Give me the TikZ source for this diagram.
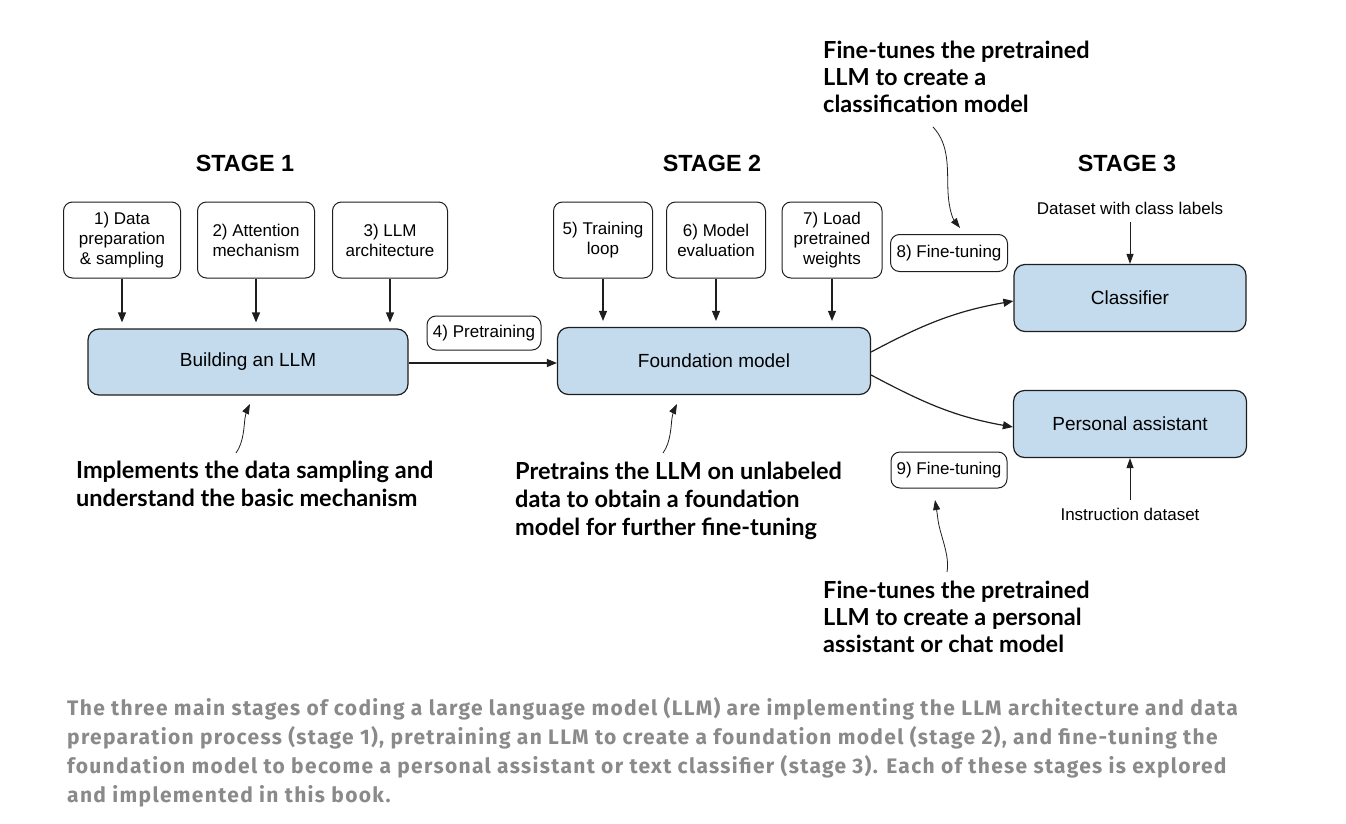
\documentclass[tikz,border=0pt]{standalone}
\usepackage{fontspec}
\setmainfont{Liberation Sans}
\newfontfamily\annfont{Lato}
\newfontfamily\capfont[LetterSpace=6.3]{Fira Sans}
\usetikzlibrary{arrows.meta}
\definecolor{boxblue}{RGB}{196,219,238}
\definecolor{capgray}{RGB}{138,138,138}
\definecolor{edge}{RGB}{30,30,30}
\begin{document}
\begin{tikzpicture}[x=1pt,y=-1pt,
 smallbox/.style={draw=edge, line width=1pt, rounded corners=9pt, align=center, font=\fontsize{17}{20}\selectfont, inner sep=0pt},
 bigbox/.style={draw=edge, fill=boxblue, line width=1.2pt, rounded corners=11pt, font=\fontsize{19}{22}\selectfont, inner sep=0pt},
 arr/.style={line width=1.2pt, draw=edge, -{Triangle[length=10pt,width=8pt]}},
 thinarr/.style={line width=0.8pt, draw=edge, -{Triangle[length=10pt,width=7pt]}},
 stage/.style={font=\bfseries\fontsize{23.4}{27}\selectfont, inner sep=0pt},
 ann/.style={font=\annfont\bfseries\fontsize{23.5}{27}\selectfont, anchor=base west, inner sep=0pt},
 captxt/.style={font=\capfont\bfseries\fontsize{21}{29}\selectfont, text=capgray, anchor=base west, inner sep=0pt},
 lbl/.style={font=\fontsize{17}{20}\selectfont, inner sep=0pt}
]
\useasboundingbox (0,0) rectangle (1346,824);

% stage headings
\node[stage] (s1) at (245,163) {STAGE 1};
\node[stage] (s2) at (712,163) {STAGE 2};
\node[stage] (s3) at (1127,163) {STAGE 3};

% stage 1
\node[smallbox, minimum width=117pt, minimum height=76pt] (b1) at (122,240) {1) Data\\preparation\\\& sampling};
\node[smallbox, minimum width=117pt, minimum height=76pt] (b2) at (256,240) {2) Attention\\mechanism};
\node[smallbox, minimum width=115pt, minimum height=76pt] (b3) at (390,240) {3) LLM\\architecture};
\node[bigbox, minimum width=320pt, minimum height=66pt] (build) at (248,362) {Building an LLM};

\draw[arr, shorten >=6pt] (b1.south) -- (b1.south |- build.north);
\draw[arr, shorten >=6pt] (b2.south) -- (b2.south |- build.north);
\draw[arr, shorten >=6pt] (b3.south) -- (b3.south |- build.north);

% stage 2
\node[smallbox, minimum width=99pt, minimum height=76pt] (b5) at (603,240) {5) Training\\loop};
\node[smallbox, minimum width=99pt, minimum height=76pt] (b6) at (716,240) {6) Model\\evaluation};
\node[smallbox, minimum width=100pt, minimum height=76pt] (b7) at (832,240) {7) Load\\pretrained\\weights};
\node[bigbox, minimum width=313pt, minimum height=67pt] (found) at (714,361) {Foundation model};

\draw[arr, shorten >=6pt] (b5.south) -- (b5.south |- found.north);
\draw[arr, shorten >=6pt] (b6.south) -- (b6.south |- found.north);
\draw[arr, shorten >=6pt] (b7.south) -- (b7.south |- found.north);

\node[smallbox, minimum width=114pt, minimum height=34pt] (b4) at (484,333) {4) Pretraining};
\draw[arr] (build.east |- 0,363) -- (found.west |- 0,363);

% stage 3
\node[bigbox, minimum width=232pt, minimum height=67pt] (cls) at (1130,298) {Classifier};
\node[bigbox, minimum width=233pt, minimum height=67pt] (pa) at (1130,424) {Personal assistant};
\node[smallbox, minimum width=117pt, minimum height=37pt] (b8) at (949,253) {8) Fine-tuning};
\node[smallbox, minimum width=116pt, minimum height=36pt] (b9) at (949,470) {9) Fine-tuning};

\node[lbl] (dcl) at (1130,208) {Dataset with class labels};
\node[lbl] (ids) at (1130,514) {Instruction dataset};
\draw[thinarr, line width=1pt, shorten <=8pt] (dcl.south) -- (cls.north);
\draw[thinarr, line width=1pt, shorten <=8pt] (ids.north) -- (pa.south);

\draw[arr] (found.east |- 0,352) to[out=28,in=190] (cls.west |- 0,301);
\draw[arr] (found.east |- 0,375) to[out=-28,in=170] (pa.west |- 0,427);

% annotations
\node[ann] (a1l1) at (823,59) {Fine-tunes the pretrained};
\node[ann] (a1l2) at (823,86) {LLM to create a};
\node[ann] (a1l3) at (823,113) {classification model};
\coordinate (a1s) at (933,127);
\coordinate (a1e) at (960,228);
\draw[thinarr] (a1s) .. controls (950,145) and (947,170) .. (948,192) .. controls (949,210) and (953,219) .. (a1e);

\node[ann] (a2l1) at (823,598) {Fine-tunes the pretrained};
\node[ann] (a2l2) at (823,625) {LLM to create a personal};
\node[ann] (a2l3) at (823,652) {assistant or chat model};
\coordinate (a2s) at (947,572);
\coordinate (a2e) at (935,500);
\draw[thinarr] (a2s) .. controls (950,555) and (940,535) .. (938,520) .. controls (937,512) and (936,506) .. (a2e);

\node[ann] (a3l1) at (76,478) {Implements the data sampling and};
\node[ann] (a3l2) at (76,506) {understand the basic mechanism};
\coordinate (a3s) at (236,453);
\coordinate (a3e) at (250,404);
\draw[thinarr] (a3s) .. controls (244,442) and (244,425) .. (245,418) .. controls (246,412) and (248,408) .. (a3e);

\node[ann] (a4l1) at (515,479) {Pretrains the LLM on unlabeled};
\node[ann] (a4l2) at (515,507) {data to obtain a foundation};
\node[ann] (a4l3) at (515,535) {model for further fine-tuning};
\coordinate (a4s) at (663,453);
\coordinate (a4e) at (677,404);
\draw[thinarr] (a4s) .. controls (671,442) and (671,425) .. (672,418) .. controls (673,412) and (675,408) .. (a4e);

% caption
\node[captxt] (c1) at (67,715) {The three main stages of coding a large language model (LLM) are implementing the LLM architecture and data};
\node[captxt] (c2) at (67,744) {preparation process (stage 1), pretraining an LLM to create a foundation model (stage 2), and fine-tuning the};
\node[captxt] (c3) at (67,773) {foundation model to become a personal assistant or text classifier (stage 3). Each of these stages is explored};
\node[captxt] (c4) at (67,802) {and implemented in this book.};
\end{tikzpicture}
\end{document}
